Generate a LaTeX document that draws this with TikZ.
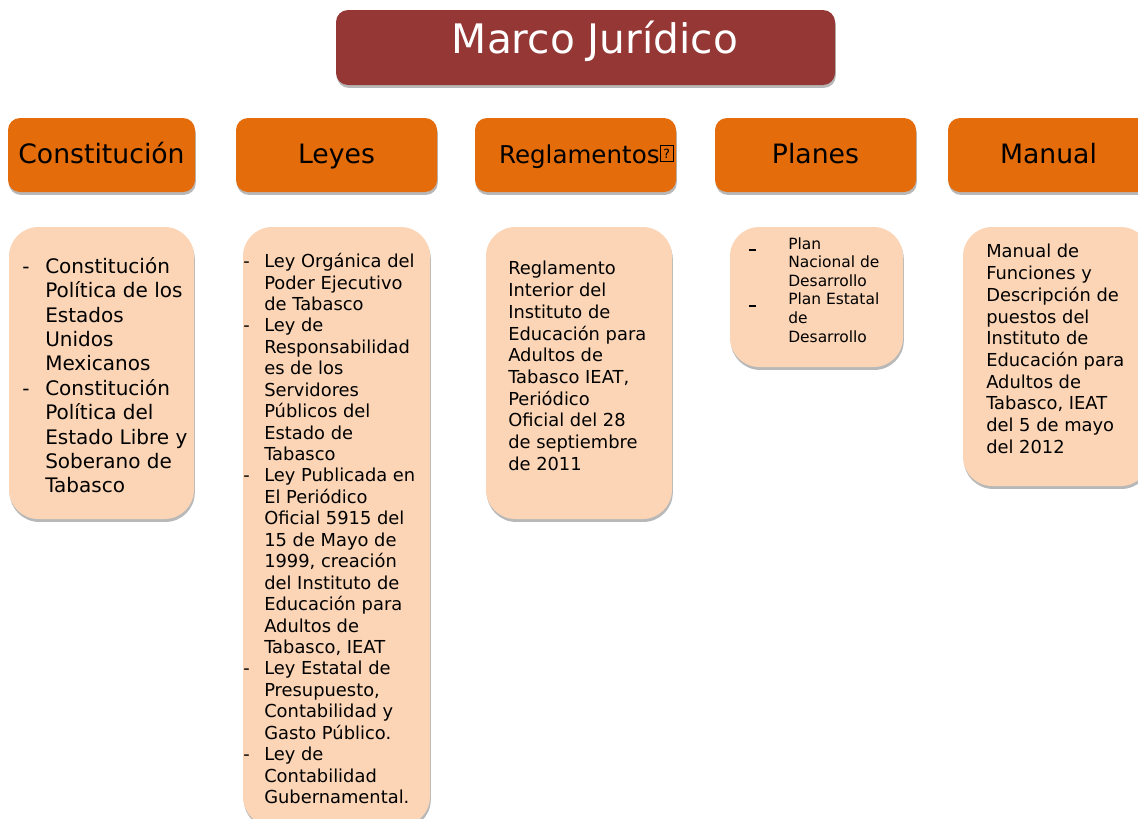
\documentclass[tikz,border=0pt]{standalone}
\usepackage{fontspec}
\setmainfont{DejaVu Sans}
\usepackage{tikz}
\usetikzlibrary{shadows}
\definecolor{marcored}{HTML}{953735}
\definecolor{hdrorange}{HTML}{E46C0A}
\definecolor{boxpeach}{HTML}{FBD5B5}
\newlength{\px}
\setlength{\px}{0.75pt}
% dash hanging left of a list line
\newcommand{\itemdash}[1]{\llap{\makebox[#1][l]{-}}}
\newcommand{\planedash}{\llap{\makebox[29.25pt][l]{\rule[-1.6pt]{5pt}{1.8pt}}}}
% the box that stands for a missing glyph
\newcommand{\qbox}{\raisebox{1.2pt}{\setlength{\fboxsep}{0pt}\setlength{\fboxrule}{0.6pt}%
  \fbox{\makebox[9.6pt]{\rule{0pt}{12pt}\raisebox{2pt}{\fontsize{9.5}{9.5}\selectfont ?}}}}}

\begin{document}
\begin{tikzpicture}[x=0.75pt, y=-0.75pt, every node/.style={inner sep=0pt},
  softshadow/.style={drop shadow={shadow xshift=0.6pt, shadow yshift=-2.2pt,
      fill=black, opacity=0.28}},
  titlebox/.style={fill=marcored, rounded corners=9pt, softshadow},
  hdrbox/.style={fill=hdrorange, rounded corners=9pt, softshadow,
      minimum width=201*\px, minimum height=74*\px,
      text height=15pt, text depth=3pt, font=\fontsize{20}{24}\selectfont},
  peachbox/.style={fill=boxpeach, rounded corners=22pt, softshadow},
  boxtext/.style={anchor=north west, align=left}]

  \useasboundingbox (0,0) rectangle (1138,818);
  \clip (0,0) rectangle (1138,818);

  % title
  \node[titlebox, minimum width=499*\px, minimum height=75*\px] (title)
        at (585.5,47.5) {};
  \node[anchor=base, text=white, font=\fontsize{30.5}{36}\selectfont] (titleT)
        at (595,53.3) {Marco Jurídico};

  % headers
  \node[hdrbox, minimum width=187*\px] (cons) at (101.5,155) {Constitución};
  \node[hdrbox] (leyes) at (336.5,155) {Leyes};
  \node[hdrbox, font=\fontsize{18.4}{22}\selectfont] (regl) at (575.5,155)
        {\hspace*{22\px}Reglamentos\qbox};
  \node[hdrbox] (planes) at (815.5,155) {Planes};
  \node[hdrbox] (manual) at (1048.5,155) {Manual};

  % content boxes
  \node[peachbox, minimum width=185*\px, minimum height=292*\px] (consB)
        at (101.5,373) {};
  \node[peachbox, minimum width=187*\px, minimum height=599*\px] (leyesB)
        at (336.5,526.5) {};
  \node[peachbox, minimum width=186*\px, minimum height=292*\px] (reglB)
        at (579,373) {};
  \node[peachbox, minimum width=173*\px, minimum height=140*\px] (planesB)
        at (816.5,297) {};
  \node[peachbox, minimum width=187*\px, minimum height=259*\px] (manualB)
        at (1056.5,356.5) {};

  % texts
  \node[boxtext, font=\fontsize{15}{18.3}\selectfont] (consT) at (45,257)
        {\itemdash{17.25pt}Constitución\\ Política de los\\ Estados\\ Unidos\\ Mexicanos\\
         \itemdash{17.25pt}Constitución\\ Política del\\ Estado Libre y\\ Soberano de\\ Tabasco};
  \node[boxtext, font=\fontsize{13.4}{16.08}\selectfont] (leyesT) at (264,253)
        {\itemdash{15.75pt}Ley Orgánica del\\ Poder Ejecutivo\\ de Tabasco\\
         \itemdash{15.75pt}Ley de\\ Responsabilidad\\ es de los\\ Servidores\\ Públicos del\\
         Estado de\\ Tabasco\\
         \itemdash{15.75pt}Ley Publicada en\\ El Periódico\\ Oficial 5915 del\\ 15 de Mayo de\\
         1999, creación\\ del Instituto de\\ Educación para\\ Adultos de\\ Tabasco, IEAT\\
         \itemdash{15.75pt}Ley Estatal de\\ Presupuesto,\\ Contabilidad y\\ Gasto Público.\\
         \itemdash{15.75pt}Ley de\\ Contabilidad\\ Gubernamental.};
  \node[boxtext, font=\fontsize{13.4}{16.3}\selectfont] (reglT) at (508,261)
        {Reglamento\\ Interior del\\ Instituto de\\ Educación para\\ Adultos de\\
         Tabasco IEAT,\\ Periódico\\ Oficial del 28\\ de septiembre\\ de 2011};
  \node[boxtext, font=\fontsize{11.6}{13.95}\selectfont] (planesT) at (788,237)
        {\planedash Plan\\ Nacional de\\ Desarrollo\\
         \planedash Plan Estatal\\ de\\ Desarrollo};
  \node[boxtext, font=\fontsize{13.4}{16.3}\selectfont] (manualT) at (986,244)
        {Manual de\\ Funciones y\\ Descripción de\\ puestos del\\ Instituto de\\
         Educación para\\ Adultos de\\ Tabasco, IEAT\\ del 5 de mayo\\ del 2012};
\end{tikzpicture}
\end{document}
